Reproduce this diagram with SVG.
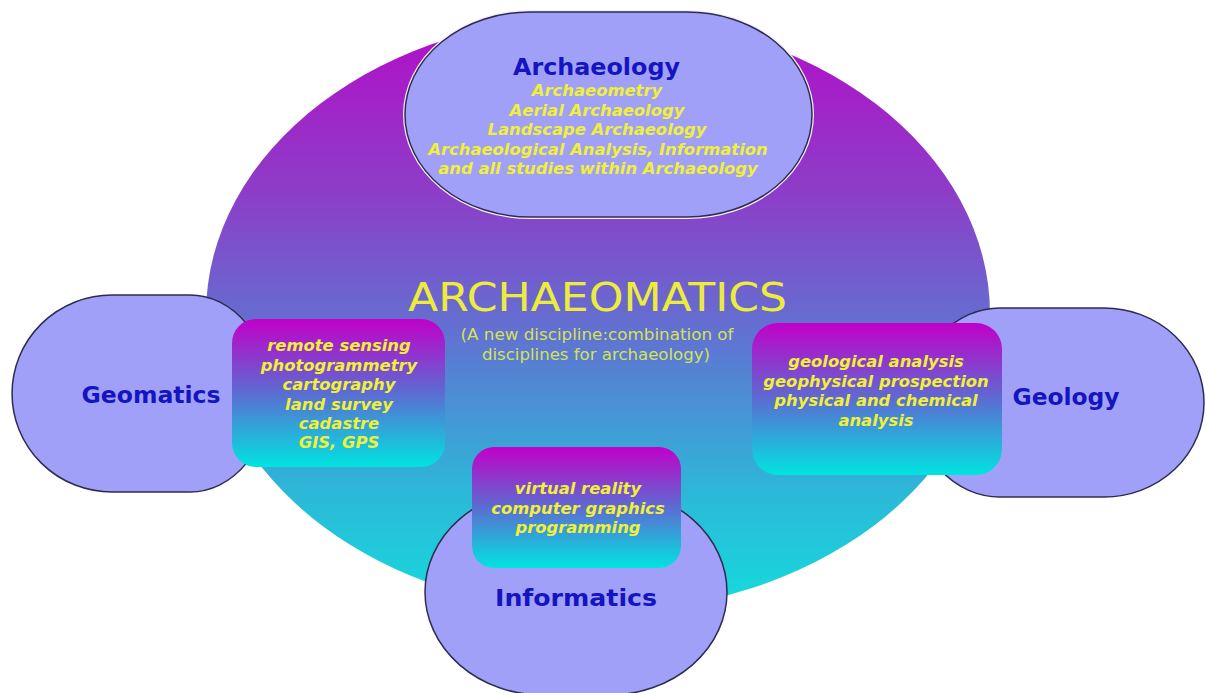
<svg xmlns="http://www.w3.org/2000/svg" width="1206" height="693" viewBox="0 0 1206 693">
<defs>
<linearGradient id="gEll" x1="0" y1="0" x2="0" y2="1">
<stop offset="0" stop-color="#b40cc8"/>
<stop offset="0.3" stop-color="#8c3ec8"/>
<stop offset="0.55" stop-color="#5e76d2"/>
<stop offset="0.8" stop-color="#2cb8d8"/>
<stop offset="1" stop-color="#14dcdc"/>
</linearGradient>
<linearGradient id="gBox" x1="0" y1="0" x2="0" y2="1">
<stop offset="0" stop-color="#c200c8"/>
<stop offset="0.5" stop-color="#5c6cd2"/>
<stop offset="1" stop-color="#00e4e0"/>
</linearGradient>
</defs>
<style>
.node{fill:#a0a0f8;stroke:#2c2c50;stroke-width:1.5}
.halo{fill:none;stroke:#f6eefa;stroke-width:4}
.box{fill:url(#gBox)}
.title{font-family:"DejaVu Sans",Verdana,sans-serif;font-weight:bold;fill:#1414c0;text-anchor:middle;font-size:22.5px}
.item{font-family:"DejaVu Sans",Verdana,sans-serif;font-weight:bold;font-style:italic;fill:#f0f038;text-anchor:middle;font-size:16.4px}
.main{font-family:"DejaVu Sans",Verdana,sans-serif;fill:#ecec3c;text-anchor:middle;font-size:39px}
.sub{font-family:"DejaVu Sans",Verdana,sans-serif;fill:#d4e258;text-anchor:middle;font-size:15.5px}
</style>
<rect width="1206" height="693" fill="#ffffff"/>
<g id="archaeomatics">
<ellipse cx="598" cy="314" rx="392" ry="298" fill="url(#gEll)"/>
<text class="main" x="597.5" y="311" textLength="379" lengthAdjust="spacingAndGlyphs">ARCHAEOMATICS</text>
<text class="sub" x="597" y="340" textLength="273" lengthAdjust="spacingAndGlyphs">(A new discipline:combination of</text>
<text class="sub" x="596" y="360" textLength="228" lengthAdjust="spacingAndGlyphs">disciplines for archaeology)</text>
</g>
<g id="connectors"></g>
<g id="archaeology">
<rect class="halo" x="405" y="12" width="407" height="205" rx="125" ry="102.5"/>
<rect class="node" x="405" y="12" width="407" height="205" rx="125" ry="102.5"/>
<text class="title" x="596.5" y="75" textLength="167" lengthAdjust="spacingAndGlyphs">Archaeology</text>
<text class="item" x="597" y="96">Archaeometry</text>
<text class="item" x="597" y="115.5">Aerial Archaeology</text>
<text class="item" x="597" y="135">Landscape Archaeology</text>
<text class="item" x="598" y="154.5">Archaeological Analysis, Information</text>
<text class="item" x="598" y="174">and all studies within Archaeology</text>
</g>
<g id="geomatics">
<path class="node" d="M112,295 H190 A80,98.5 0 0 1 190,492 H112 A100,98.5 0 0 1 112,295 Z"/>
<text class="title" x="151" y="403" textLength="139" lengthAdjust="spacingAndGlyphs">Geomatics</text>
<rect class="box" x="232" y="319" width="213" height="148" rx="24"/>
<text class="item" x="339" y="351">remote sensing</text>
<text class="item" x="339" y="370.5">photogrammetry</text>
<text class="item" x="339" y="390">cartography</text>
<text class="item" x="339" y="409.5">land survey</text>
<text class="item" x="339" y="429">cadastre</text>
<text class="item" x="339" y="448">GIS, GPS</text>
</g>
<g id="geology">
<path class="node" d="M1000,308 H1104 A100,94.5 0 0 1 1104,497 H1000 A85,94.5 0 0 1 1000,308 Z"/>
<text class="title" x="1066" y="405" textLength="107" lengthAdjust="spacingAndGlyphs">Geology</text>
<rect class="box" x="752" y="323" width="250" height="152" rx="26"/>
<text class="item" x="876" y="367">geological analysis</text>
<text class="item" x="876" y="386.5">geophysical prospection</text>
<text class="item" x="876" y="406">physical and chemical</text>
<text class="item" x="876" y="425.5">analysis</text>
</g>
<g id="informatics">
<rect class="node" x="425" y="489" width="302" height="206" rx="118" ry="103"/>
<text class="title" x="576" y="606" textLength="162" lengthAdjust="spacingAndGlyphs">Informatics</text>
<rect class="box" x="472" y="447" width="209" height="121" rx="22"/>
<text class="item" x="578" y="494">virtual reality</text>
<text class="item" x="578" y="513.5">computer graphics</text>
<text class="item" x="578" y="533">programming</text>
</g>
</svg>
